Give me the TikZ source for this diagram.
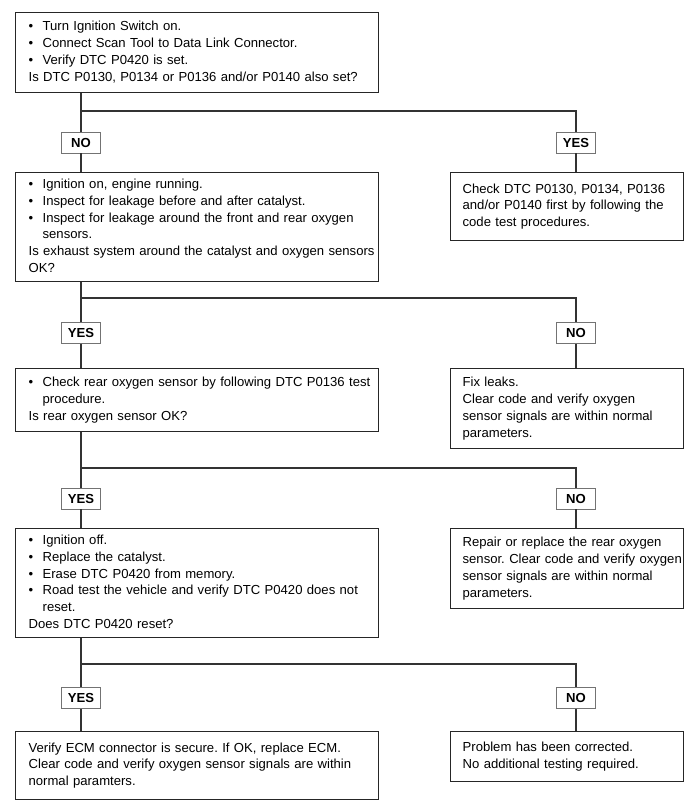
\documentclass[tikz,border=0pt]{standalone}
\usepackage{fontspec}
\setmainfont{Liberation Sans}
\setlength\parindent{0pt}
\frenchspacing
\newcommand\myfs{\fontsize{13.1pt}{16.7pt}\selectfont}
\newcommand\mybul{\makebox[14pt][l]{\textbullet}}
\newcommand\myind{\hspace*{14pt}}
\begin{document}
\begin{tikzpicture}[x=1pt,y=-1pt,
  box/.style={draw=black!85, line width=1.3pt, anchor=north west, inner xsep=13pt, inner ysep=0pt, align=left, font=\myfs},
  rbox/.style={box, inner xsep=12pt, text width=209pt},
  lbox/.style={box, text width=337pt},
  lab/.style={draw=black!55, line width=0.7pt, fill=white, minimum width=39pt, minimum height=21pt, inner sep=0pt, font=\myfs\bfseries},
  conn/.style={draw=black!80, line width=1.3pt}]
\fill[white] (0,0) rectangle (700,809);
\useasboundingbox (0,0) rectangle (700,809);

% boxes
\node[lbox, minimum height=80pt] (b1) at (15,12) {\begin{tabular}{@{}l@{}}
\mybul Turn Ignition Switch on.\\
\mybul Connect Scan Tool to Data Link Connector.\\
\mybul Verify DTC P0420 is set.\\
Is DTC P0130, P0134 or P0136 and/or P0140 also set?\end{tabular}};

\node[lbox, minimum height=109pt] (b2) at (15,172) {\begin{tabular}{@{}l@{}}
\mybul Ignition on, engine running.\\
\mybul Inspect for leakage before and after catalyst.\\
\mybul Inspect for leakage around the front and rear oxygen\\
\myind sensors.\\
Is exhaust system around the catalyst and oxygen sensors\\
OK?\end{tabular}};

\node[rbox, minimum height=68pt] (r1) at (450,172) {\begin{tabular}{@{}l@{}}
Check DTC P0130, P0134, P0136\\
and/or P0140 first by following the\\
code test procedures.\end{tabular}};

\node[lbox, minimum height=63pt] (b3) at (15,368) {\begin{tabular}{@{}l@{}}
\mybul Check rear oxygen sensor by following DTC P0136 test\\
\myind procedure.\\
Is rear oxygen sensor OK?\end{tabular}};

\node[rbox, minimum height=80pt] (r2) at (450,368) {\begin{tabular}{@{}l@{}}
Fix leaks.\\
Clear code and verify oxygen\\
sensor signals are within normal\\
parameters.\end{tabular}};

\node[lbox, minimum height=109pt] (b4) at (15,528) {\begin{tabular}{@{}l@{}}
\mybul Ignition off.\\
\mybul Replace the catalyst.\\
\mybul Erase DTC P0420 from memory.\\
\mybul Road test the vehicle and verify DTC P0420 does not\\
\myind reset.\\
Does DTC P0420 reset?\end{tabular}};

\node[rbox, minimum height=80pt] (r3) at (450,528) {\begin{tabular}{@{}l@{}}
Repair or replace the rear oxygen\\
sensor. Clear code and verify oxygen\\
sensor signals are within normal\\
parameters.\end{tabular}};

\node[lbox, minimum height=68pt] (b5) at (15,731) {\begin{tabular}{@{}l@{}}
Verify ECM connector is secure. If OK, replace ECM.\\
Clear code and verify oxygen sensor signals are within\\
normal paramters.\end{tabular}};

\node[rbox, minimum height=50pt] (r4) at (450,731) {\begin{tabular}{@{}l@{}}
Problem has been corrected.\\
No additional testing required.\end{tabular}};

% labels
\node[lab] (n1) at (81,142.5) {NO};
\node[lab] (y1) at (576,142.5) {YES};
\node[lab] (y2) at (81,333) {YES};
\node[lab] (n2) at (576,333) {NO};
\node[lab] (y3) at (81,498.5) {YES};
\node[lab] (n3) at (576,498.5) {NO};
\node[lab] (y4) at (81,698) {YES};
\node[lab] (n4) at (576,698) {NO};

% junctions
\coordinate (j1) at (81,111);
\coordinate (j2) at (81,298);
\coordinate (j3) at (81,468);
\coordinate (j4) at (81,664);

% connectors
\draw[conn] (b1.south -| n1) -- (n1.north);
\draw[conn] (n1.south) -- (b2.north -| n1);
\draw[conn] (j1) -| (y1.north);
\draw[conn] (y1.south) -- (r1.north -| y1);

\draw[conn] (b2.south -| y2) -- (y2.north);
\draw[conn] (y2.south) -- (b3.north -| y2);
\draw[conn] (j2) -| (n2.north);
\draw[conn] (n2.south) -- (r2.north -| n2);

\draw[conn] (b3.south -| y3) -- (y3.north);
\draw[conn] (y3.south) -- (b4.north -| y3);
\draw[conn] (j3) -| (n3.north);
\draw[conn] (n3.south) -- (r3.north -| n3);

\draw[conn] (b4.south -| y4) -- (y4.north);
\draw[conn] (y4.south) -- (b5.north -| y4);
\draw[conn] (j4) -| (n4.north);
\draw[conn] (n4.south) -- (r4.north -| n4);
\end{tikzpicture}
\end{document}
